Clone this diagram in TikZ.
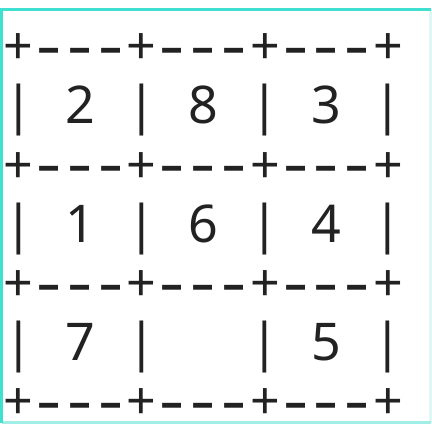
\documentclass[tikz,border=0pt]{standalone}
\usepackage{fontspec}
\newfontfamily\gridfont{Noto Sans}
\definecolor{ink}{HTML}{222222}
\definecolor{frameA}{HTML}{40E0D0}
\definecolor{frameB}{HTML}{A0EEE6}
\definecolor{frameC}{HTML}{DDF8F5}
\begin{document}
\begin{tikzpicture}[x=1pt,y=-1pt,
  ch/.style={inner sep=0pt, outer sep=0pt, anchor=base, text=ink,
    font=\gridfont\fontsize{52}{59}\selectfont},
  dashch/.style={ch, yshift=-2.8pt}]
\useasboundingbox (0,0) rectangle (432,432);
% frame
\coordinate (ftl) at (1.5,9.5);
\coordinate (ftr) at (430.5,9.5);
\coordinate (fbl) at (1.5,422.5);
\coordinate (fbr) at (430.5,422.5);
\draw[frameC, line width=3pt] (fbr) -- (ftr);
\draw[frameB, line width=3pt] (fbl) -- (fbr);
\draw[frameA, line width=3pt] (ftr) -- (ftl) -- (fbl);
% border rows
\foreach \r in {0,2,4,6} {
  \foreach \c in {0,...,12} {
    \pgfmathtruncatemacro\m{mod(\c,4)}
    \ifnum\m=0
      \node[ch] (p-\r-\c) at ({18.5+30.8*\c},{64.8+59.1*\r}) {+};
    \else
      \node[dashch] (p-\r-\c) at ({18.5+30.8*\c},{64.8+59.1*\r}) {\scalebox{1.5}[1.2]{-}};
    \fi
  }
}
% cell rows: bars
\foreach \r in {1,3,5} {
  \foreach \c in {0,4,8,12} {
    \node[ch] (b-\r-\c) at ({18.5+30.8*\c},{64.8+59.1*\r}) {|};
  }
}
% digits
\foreach \r/\c/\d in {1/2/2, 1/6/8, 1/10/3, 3/2/1, 3/6/6, 3/10/4, 5/2/7, 5/10/5} {
  \node[ch] (d-\r-\c) at ({18.5+30.8*\c},{64.8+59.1*\r}) {\d};
}
\end{tikzpicture}
\end{document}
